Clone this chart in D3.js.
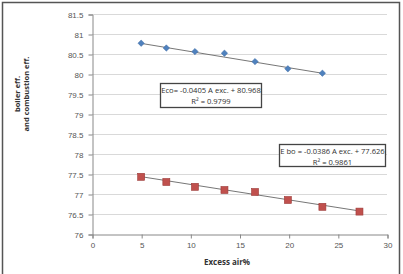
<!DOCTYPE html>
<html>
<head>
<meta charset="utf-8">
<script src="https://cdn.jsdelivr.net/npm/d3@7"></script>
<style>
  body { margin: 0; background: #fff; }
  svg { display: block; font-family: "Open Sans", "Liberation Sans", sans-serif; }
</style>
</head>
<body>
<script>
const excessAir = [5, 7.56, 10.47, 13.47, 16.58, 19.92, 23.43];
const ecoValues = [80.77, 80.65, 80.56, 80.52, 80.31, 80.13, 80.02];
const excessAirBo = [5, 7.56, 10.47, 13.47, 16.58, 19.92, 23.43, 27.2];
const eboValues = [77.43, 77.3, 77.18, 77.1, 77.05, 76.85, 76.68, 76.56];
const xTicks = [0, 5, 10, 15, 20, 25, 30];
const yTicks = [76, 76.5, 77, 77.5, 78, 78.5, 79, 79.5, 80, 80.5, 81, 81.5];
const ecoFit = { slope: -0.0405, icept: 80.968, label: ['Eco= -0.0405 A exc. + 80.968', 'R² = 0.9799'] };
const eboFit = { slope: -0.0386, icept: 77.626, label: ['E bo = -0.0386 A exc. + 77.626', 'R² = 0.9861'] };

const W = 403, H = 274;
const svg = d3.select('body').append('svg').attr('width', W).attr('height', H);

/** outer frame */
svg.append('path')
  .attr('d', `M2.5,${H + 2}V2.5H399.5V${H + 2}`)
  .attr('fill', 'none').attr('stroke', '#555').attr('stroke-width', 1.5);

const x = d3.scaleLinear().domain([0, 30]).range([92, 387]);
const y = d3.scaleLinear().domain([76, 81.5]).range([234, 14]);

// gridlines
svg.append('g').selectAll('line').data(yTicks.slice(1)).enter().append('line')
  .attr('x1', x(0)).attr('x2', x(30))
  .attr('y1', d => Math.round(y(d)) + 0.5).attr('y2', d => Math.round(y(d)) + 0.5)
  .attr('stroke', '#d9d9d9');

// axes
const yAxis = svg.append('g').attr('transform', `translate(${x(0) + 0.5},0.5)`)
  .call(d3.axisLeft(y).tickValues(yTicks).tickFormat(d3.format('')).tickSize(4).tickPadding(5));
const xAxis = svg.append('g').attr('transform', `translate(0.5,${y(76) + 0.5})`)
  .call(d3.axisBottom(x).tickValues(xTicks).tickSize(4).tickPadding(4));
[xAxis, yAxis].forEach(a => {
  a.selectAll('path, line').attr('stroke', '#888');
  a.selectAll('text').attr('fill', '#555').style('font-size', '8px');
});

// axis titles
svg.append('text').attr('x', 227).attr('y', 265).attr('text-anchor', 'middle')
  .style('font-size', '8px').style('font-weight', 'bold').attr('fill', '#333').text('Excess air%');
const yt = svg.append('text').attr('transform', 'translate(20,94) rotate(-90)')
  .attr('text-anchor', 'middle').style('font-size', '7.5px').style('font-weight', 'bold').attr('fill', '#333');
yt.append('tspan').attr('x', 0).attr('dy', 0).text('boiler eff.');
yt.append('tspan').attr('x', 0).attr('dy', 8.5).text('and combustion eff.');

// trendlines
function trend(fit, xs) {
  const x0 = d3.min(xs), x1 = d3.max(xs);
  svg.append('line')
    .attr('x1', x(x0)).attr('y1', y(fit.icept + fit.slope * x0))
    .attr('x2', x(x1)).attr('y2', y(fit.icept + fit.slope * x1))
    .attr('stroke', '#666').attr('stroke-width', 0.9);
}
trend(ecoFit, excessAir);
trend(eboFit, excessAirBo);

// markers
const ecoPts = excessAir.map((v, i) => [v, ecoValues[i]]);
const eboPts = excessAirBo.map((v, i) => [v, eboValues[i]]);
svg.append('g').selectAll('path').data(ecoPts).enter().append('path')
  .attr('d', d3.symbol(d3.symbolDiamond2, 26))
  .attr('transform', d => `translate(${x(d[0])},${y(d[1])})`)
  .attr('fill', '#4f81bd').attr('stroke', '#3d6aa3').attr('stroke-width', 0.5);
svg.append('g').selectAll('rect').data(eboPts).enter().append('rect')
  .attr('x', d => x(d[0]) - 3.5).attr('y', d => y(d[1]) - 3.5)
  .attr('width', 7).attr('height', 7)
  .attr('fill', '#c0504d').attr('stroke', '#9c3a38').attr('stroke-width', 0.6);

// fit label boxes
function labelBox(fit, bx, by, bw, bh) {
  svg.append('rect').attr('x', bx).attr('y', by).attr('width', bw).attr('height', bh)
    .attr('fill', '#fff').attr('stroke', '#444').attr('stroke-width', 1.3);
  fit.label.forEach((t, i) => {
    svg.append('text').attr('x', bx + bw / 2).attr('y', by + 9.5 + i * 10.5)
      .attr('text-anchor', 'middle').style('font-size', '7.6px').attr('fill', '#333').text(t);
  });
}
labelBox(ecoFit, 160.5, 83.5, 101, 24);
labelBox(eboFit, 279.5, 144.5, 106, 22);
</script>
</body>
</html>
